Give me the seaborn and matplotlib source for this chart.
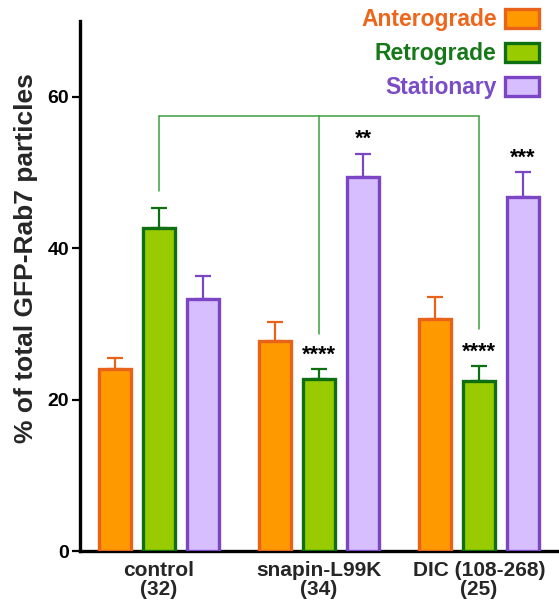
import matplotlib
matplotlib.use("Agg")
import matplotlib.pyplot as plt
from matplotlib.patches import Patch
import seaborn as sns
import pandas as pd

# ---- data ----
conditions = ["control\n(32)", "snapin-L99K\n(34)", "DIC (108-268)\n(25)"]
directions = ["Anterograde", "Retrograde", "Stationary"]
anterograde = [24.0, 27.8, 30.7]
retrograde = [42.6, 22.7, 22.45]
stationary = [33.3, 49.35, 46.8]
anterograde_sem = [1.5, 2.4, 2.9]
retrograde_sem = [2.7, 1.3, 1.95]
stationary_sem = [3.0, 3.15, 3.3]
yticks = [0, 20, 40, 60]
# significance marks: (direction, condition index, label)
stars = [("Retrograde", 1, "****"), ("Retrograde", 2, "****"),
         ("Stationary", 1, "**"), ("Stationary", 2, "***")]

fill_colors = {"Anterograde": "#FF9900", "Retrograde": "#99CC00", "Stationary": "#D7BFFF"}
edge_colors = {"Anterograde": "#E8621A", "Retrograde": "#0E6E12", "Stationary": "#7B45C6"}
text_colors = {"Anterograde": "#EC661C", "Retrograde": "#17781A", "Stationary": "#7A4CC6"}

values = {"Anterograde": anterograde, "Retrograde": retrograde, "Stationary": stationary}
sems = {"Anterograde": anterograde_sem, "Retrograde": retrograde_sem, "Stationary": stationary_sem}

rows = []
for d in directions:
    for c, v in zip(conditions, values[d]):
        rows.append({"condition": c, "direction": d, "value": v})
df = pd.DataFrame(rows)

sns.set_style("ticks")
plt.rcParams["font.family"] = ["Liberation Sans", "DejaVu Sans"]
plt.rcParams["font.weight"] = "bold"

fig = plt.figure(figsize=(5.59, 6.04), dpi=100)
ax = fig.add_axes([80 / 559, 1 - 551 / 604, 1 - 80 / 559, (551 - 21) / 604])

sns.barplot(data=df, x="condition", y="value", hue="direction", order=conditions,
            hue_order=directions, palette=fill_colors, errorbar=None, saturation=1,
            width=0.825, gap=0.29, legend=False, ax=ax, zorder=3)

centers = {}
for d, cont in zip(directions, ax.containers):
    centers[d] = []
    for bar, sem in zip(cont, sems[d]):
        bar.set_edgecolor(edge_colors[d])
        bar.set_linewidth(2.4)
        cx = bar.get_x() + bar.get_width() / 2
        h = bar.get_height()
        centers[d].append((cx, h, sem))
        ax.errorbar([cx], [h], yerr=[[0], [sem]], fmt="none", ecolor=edge_colors[d],
                    elinewidth=1.6, capsize=5.5, capthick=1.6, zorder=2)

# bracket comparing retrograde
rx = [c[0] for c in centers["Retrograde"]]
bracket_top = 57.5
drops = [47.6, 28.7, 29.3]
bcol = "#3E9E40"
ax.plot([rx[0], rx[2]], [bracket_top, bracket_top], color=bcol, lw=1.1, zorder=4)
for x, yb in zip(rx, drops):
    ax.plot([x, x], [bracket_top, yb], color=bcol, lw=1.1, zorder=4)

for d, i, lab in stars:
    cx, h, sem = centers[d][i]
    ax.text(cx, h + sem + 1.1, lab, ha="center", va="baseline", fontsize=15.5,
            fontweight="bold", color="black", zorder=5)

ax.set_ylim(0, 70)
ax.set_xlim(-0.494, 2.5)
ax.set_yticks(yticks)
ax.set_yticklabels([str(t) for t in yticks], fontsize=14, fontweight="bold")
ax.set_xlabel("")
ax.set_ylabel("% of total GFP-Rab7 particles", fontsize=19, fontweight="bold")
ax.yaxis.set_label_coords(-0.088, 0.553)
ax.tick_params(axis="y", length=6, width=1.6, pad=2, colors="black")
ax.tick_params(axis="x", length=0, pad=7, labelsize=15)
for lab in ax.get_xticklabels():
    lab.set_fontweight("bold")
    lab.set_linespacing(1.0)
sns.despine(ax=ax, top=True, right=True)
for s in ["left", "bottom"]:
    ax.spines[s].set_linewidth(2.4)
    ax.spines[s].set_color("black")

handles = [Patch(facecolor=fill_colors[d], edgecolor=edge_colors[d], linewidth=2.4) for d in directions]
leg = fig.legend(handles, directions, loc="upper right", bbox_to_anchor=(539 / 559, 1 - 8 / 604),
                 frameon=False, markerfirst=False, handlelength=1.5,
                 handleheight=0.9, handletextpad=0.35, labelspacing=0.49,
                 borderpad=0, borderaxespad=0, prop={"weight": "bold", "size": 16.5})
for t, d in zip(leg.get_texts(), directions):
    t.set_color(text_colors[d])

fig.savefig("out.png", dpi=100)
